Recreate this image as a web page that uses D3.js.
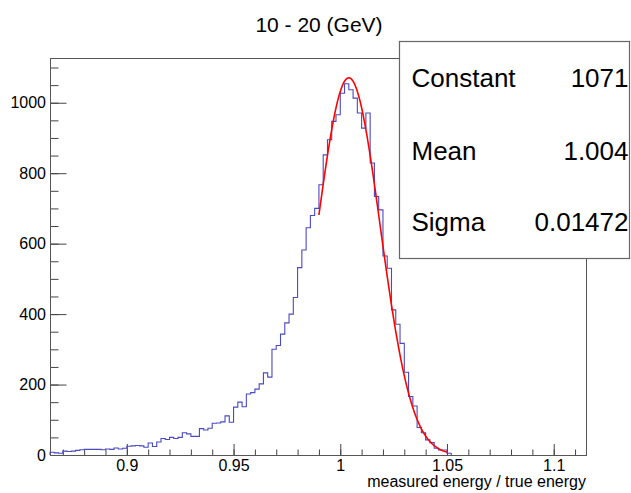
<!DOCTYPE html>
<html>
<head>
<meta charset="utf-8">
<script src="https://cdn.jsdelivr.net/npm/d3@7"></script>
<style>
  body { margin: 0; background: #fff; }
  text { font-family: 'Liberation Sans', Arial, sans-serif; }
</style>
</head>
<body>
<script>
'use strict';

const w = 631;
const h = 493;

// histogram: bins of 0.002 starting at 0.864
const binLow = 0.864;
const binWidth = 0.002;
const counts = [
  8, 6, 5, 11, 10, 11, 13, 15, 16, 16,
  16, 16, 15, 17, 16, 20, 17, 19, 25, 26,
  27, 26, 22, 34, 24, 37, 47, 44, 50, 47,
  50, 63, 60, 53, 53, 75, 71, 76, 90, 91,
  94, 111, 93, 136, 150, 137, 173, 177, 187, 202,
  233, 221, 300, 311, 343, 375, 400, 447, 532, 582,
  645, 680, 700, 767, 852, 895, 947, 966, 1027, 1054,
  1037, 1013, 971, 928, 971, 829, 734, 696, 565, 530,
  412, 371, 317, 235, 166, 139, 78, 63, 43, 35,
  19, 14, 14, 5
];

// gaussian fit
const statNames = ['Constant', 'Mean', 'Sigma'];
const statValues = ['1071', '1.004', '0.01472'];
const fitConstant = 1071;
const fitMean = 1.004;
const fitSigma = 0.01472;
const fitRange = [0.990, 1.050];

const xTicks = [0.9, 0.95, 1, 1.05, 1.1];
const yTicks = [0, 200, 400, 600, 800, 1000];

const svg = d3.select('body').append('svg').attr('width', w).attr('height', h);
/////////////////////////////////////////

const fL = 50, fR = 587, fT = 58, fB = 455;

const x = d3.scaleLinear().domain([0.864, 1.1156]).range([fL, fR]);
const y = d3.scaleLinear().domain([0, 1127]).range([fB, fT]);

// minor ticks
const xMinor = d3.range(0.87, 1.115, 0.01).map(v => +v.toFixed(3));
const yMinor = d3.range(0, 1127, 50);

svg.append('g')
  .attr('transform', `translate(0,${fB})`)
  .call(d3.axisBottom(x).tickValues(xMinor).tickSize(-5.5).tickFormat('').tickSizeOuter(0))
  .call(g => g.select('.domain').remove())
  .selectAll('line').attr('stroke', '#444');

svg.append('g')
  .attr('transform', `translate(${fL},0)`)
  .call(d3.axisLeft(y).tickValues(yMinor).tickSize(-8.5).tickFormat('').tickSizeOuter(0))
  .call(g => g.select('.domain').remove())
  .selectAll('line').attr('stroke', '#444');

// major ticks and labels
const xAxis = svg.append('g')
  .attr('transform', `translate(0,${fB})`)
  .call(d3.axisBottom(x).tickValues(xTicks).tickSize(-11).tickPadding(5)
    .tickFormat(d => String(d)).tickSizeOuter(0));
xAxis.select('.domain').remove();
xAxis.selectAll('line').attr('stroke', '#444');
xAxis.selectAll('text').attr('font-size', 16).attr('fill', '#000')
  .style('font-family', "'Liberation Sans', Arial, sans-serif");

const yAxis = svg.append('g')
  .attr('transform', `translate(${fL},0)`)
  .call(d3.axisLeft(y).tickValues(yTicks).tickSize(-16.5).tickPadding(4)
    .tickFormat(d3.format('d')).tickSizeOuter(0));
yAxis.select('.domain').remove();
yAxis.selectAll('line').attr('stroke', '#444');
yAxis.selectAll('text').attr('font-size', 16).attr('fill', '#000')
  .style('font-family', "'Liberation Sans', Arial, sans-serif");

// frame
svg.append('rect')
  .attr('x', fL + 0.5).attr('y', fT + 0.5)
  .attr('width', fR - fL - 1).attr('height', fB - fT)
  .attr('fill', 'none').attr('stroke', '#555').attr('stroke-width', 1);

// histogram outline
const steps = [[binLow, 0]];
counts.forEach((c, i) => {
  steps.push([binLow + i * binWidth, c]);
  steps.push([binLow + (i + 1) * binWidth, c]);
});
steps.push([binLow + counts.length * binWidth, 0]);

svg.append('path')
  .datum(steps)
  .attr('d', d3.line().x(d => x(d[0])).y(d => y(d[1])))
  .attr('fill', 'none')
  .attr('stroke', '#4a4ac4')
  .attr('stroke-width', 1.1);

// fit curve
const fitX = d3.range(fitRange[0], fitRange[1] + 1e-9, 0.0005);
svg.append('path')
  .datum(fitX)
  .attr('d', d3.line()
    .x(d => x(d))
    .y(d => y(fitConstant * Math.exp(-0.5 * Math.pow((d - fitMean) / fitSigma, 2)))))
  .attr('fill', 'none')
  .attr('stroke', '#ff0000')
  .attr('stroke-width', 1.6);

// title
svg.append('text')
  .text('10 - 20 (GeV)')
  .attr('x', 319)
  .attr('y', 32)
  .attr('text-anchor', 'middle')
  .attr('font-size', 21);

// x-axis label
svg.append('text')
  .text('measured energy / true energy')
  .attr('x', fR - 1)
  .attr('y', 487)
  .attr('text-anchor', 'end')
  .attr('font-size', 16);

// stats box
svg.append('rect')
  .attr('x', 399.5).attr('y', 41.5)
  .attr('width', 230).attr('height', 217)
  .attr('fill', '#fff').attr('stroke', '#666').attr('stroke-width', 1.2);

const rowY = [87, 160, 231];
svg.selectAll('.stat-name')
  .data(statNames)
  .enter()
  .append('text')
  .text(d => d)
  .attr('x', 411.5)
  .attr('y', (d, i) => rowY[i])
  .attr('font-size', 26);

svg.selectAll('.stat-value')
  .data(statValues)
  .enter()
  .append('text')
  .text(d => d)
  .attr('x', 628.5)
  .attr('y', (d, i) => rowY[i])
  .attr('text-anchor', 'end')
  .attr('font-size', 26);
</script>
</body>
</html>
